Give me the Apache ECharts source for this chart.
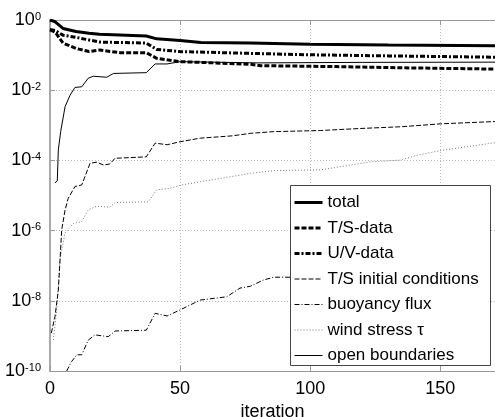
<!DOCTYPE html>
<html>
<head>
<meta charset="utf-8">
<script src="https://cdn.jsdelivr.net/npm/echarts@6/dist/echarts.min.js"></script>
<style>
html,body{margin:0;padding:0;background:#fff;overflow:hidden;}
#chart{width:495px;height:417px;}
</style>
</head>
<body>
<div id="chart"></div>
<script>
// x-axis ticks and y-axis decade ticks
const xTicks = [0, 50, 100, 150];
const yTickExponents = [0, -2, -4, -6, -8, -10];

// series names (legend order)
const seriesNames = ['total', 'T/S-data', 'U/V-data', 'T/S initial conditions', 'buoyancy flux', 'wind stress \u03c4', 'open boundaries'];

// [iteration, cost] pairs
const total = [[0,1.0],[2,0.89],[5,0.575],[10,0.47],[15,0.42],[19,0.39],[37,0.35],[41,0.29],[50,0.26],[58,0.23],[77,0.22],[100,0.205],[130,0.195],[171,0.186]];
const tsData = [[0,0.525],[2,0.45],[5,0.22],[10,0.155],[15,0.126],[19,0.14],[27,0.117],[37,0.117],[41,0.081],[50,0.065],[77,0.055],[81,0.050],[110,0.047],[140,0.043],[171,0.040]];
const uvData = [[0,0.54],[2,0.50],[5,0.37],[10,0.32],[15,0.27],[19,0.235],[37,0.22],[41,0.145],[50,0.126],[77,0.112],[100,0.102],[130,0.095],[171,0.087]];
const tsInitial = [[0.5,1.2e-9],[1.9,3.5e-9],[3.2,2.0e-8],[4.5,1.05e-6],[5.8,3.9e-6],[7,8.3e-6],[9.6,1.8e-5],[12.2,2.0e-5],[15.4,8.3e-5],[18,8.9e-5],[20.5,7.4e-5],[23,7.9e-5],[25,1.15e-4],[37,1.26e-4],[40.4,3.1e-4],[45,2.8e-4],[50,3.4e-4],[57.7,4.3e-4],[70,5.0e-4],[77,5.9e-4],[86,6.6e-4],[104,7.1e-4],[119,8.1e-4],[135,9.1e-4],[150,1.1e-3],[171,1.28e-3]];
const buoyancy = [[6.4,1.0e-10],[8.3,1.86e-10],[10.3,2.9e-10],[12.2,2.9e-10],[14.7,7.6e-10],[17.3,1.07e-9],[22.4,9.5e-10],[25,1.38e-9],[37,1.45e-9],[40.4,4.4e-9],[45,3.7e-9],[50,5.5e-9],[57.7,1.05e-8],[67.9,1.3e-8],[73,2.3e-8],[77,2.6e-8],[82,3.9e-8],[86,4.7e-8],[93,4.7e-8]];
const windStress = [[1.3,7.6e-10],[2.6,5.5e-9],[3.8,1.45e-7],[5.8,8.5e-7],[9,1.6e-6],[12.2,1.8e-6],[14.7,3.9e-6],[18,5.0e-6],[23,4.6e-6],[25,6.3e-6],[37.8,6.6e-6],[41,1.45e-5],[46,1.6e-5],[50.6,2.0e-5],[57.7,2.45e-5],[73,3.8e-5],[77,4.3e-5],[86,5.1e-5],[104,5.4e-5],[111.5,6.6e-5],[123,9.1e-5],[134.6,1.02e-4],[141,1.4e-4],[150,1.9e-4],[171,3.2e-4]];
const openBoundaries = [[1.9,2.3e-5],[2.8,2.6e-5],[3.2,2.0e-4],[4.1,6.6e-4],[5.8,3.4e-3],[7.7,7.2e-3],[9.6,0.012],[12.2,0.0125],[14.7,0.022],[16.7,0.025],[21.8,0.0234],[24.4,0.030],[37,0.0316],[40.4,0.056],[45,0.056],[50,0.065],[80,0.060],[120,0.062],[171,0.063]];

const FONT = 'Liberation Sans, Arial, Helvetica, sans-serif';
const chart = echarts.init(document.getElementById('chart'), null, {renderer: 'canvas', width: 495, height: 417});

function mk(name, data, width, type, color, z) {
  return {
    name: name, type: 'line', data: data,
    showSymbol: false, symbol: 'none', animation: false,
    xAxisIndex: 0, yAxisIndex: 0,
    lineStyle: {width: width, type: type, color: color, cap: 'butt'},
    itemStyle: {color: color},
    z: z
  };
}

const series = [
  mk(seriesNames[0], total, 3, 'solid', '#000', 10),
  mk(seriesNames[1], tsData, 3, [5, 2], '#000', 9),
  mk(seriesNames[2], uvData, 3, [5, 2, 2, 2], '#000', 8),
  mk(seriesNames[3], tsInitial, 1, [5, 2], '#000', 7),
  mk(seriesNames[4], buoyancy, 1, [5, 2, 1, 2], '#000', 6),
  mk(seriesNames[5], windStress, 1, [1, 2], '#777', 5),
  mk(seriesNames[6], openBoundaries, 1, 'solid', '#000', 7)
];

const labelRich = {
  b: {fontSize: 18, fontFamily: FONT, color: '#000', lineHeight: 18},
  s: {fontSize: 11, fontFamily: FONT, color: '#000', lineHeight: 11, verticalAlign: 'top', padding: [0, 0, 7, 0]}
};

chart.setOption({
  backgroundColor: '#fff',
  animation: false,
  grid: {left: 50, top: 20, right: 0, bottom: 46, containLabel: false, outerBoundsMode: 'none'},
  xAxis: [{
    type: 'value', min: 0, max: 171, interval: 50,
    axisLine: {show: true, lineStyle: {color: '#999', width: 1}},
    axisTick: {show: true, inside: true, length: 5, lineStyle: {color: '#999'},
      customValues: xTicks},
    axisLabel: {fontSize: 18, fontFamily: FONT, color: '#000', margin: 9, customValues: xTicks,
      formatter: v => String(v)},
    splitLine: {show: true, lineStyle: {color: '#bbb', type: [1, 2], width: 1}},
    name: 'iteration', nameLocation: 'middle', nameGap: 25,
    nameTextStyle: {fontSize: 18, fontFamily: FONT, color: '#000'}
  }, {
    type: 'value', min: 0, max: 171, interval: 50, position: 'top',
    axisLine: {show: true, lineStyle: {color: '#999', width: 1}},
    axisTick: {show: true, inside: true, length: 5, lineStyle: {color: '#999'}, customValues: xTicks},
    axisLabel: {show: false},
    splitLine: {show: false}
  }],
  yAxis: [{
    type: 'log', logBase: 10, min: 1e-10, max: 1, interval: 2,
    axisLine: {show: true, lineStyle: {color: '#aaa', width: 2}},
    axisTick: {show: true, inside: true, length: 5, lineStyle: {color: '#999'}},
    axisLabel: {
      margin: 9,
      formatter: function (v) {
        const e = Math.round(Math.log10(v));
        return '{b|10}{s|' + e + '}';
      },
      rich: labelRich
    },
    splitLine: {show: true, lineStyle: {color: '#bbb', type: [1, 2], width: 1}},
    minorTick: {show: false}
  }],
  legend: {
    orient: 'vertical', left: 293, top: 194,
    itemWidth: 28, itemHeight: 14, itemGap: 8.5,
    padding: 0,
    backgroundColor: 'transparent',
    textStyle: {fontSize: 17, fontFamily: FONT, color: '#000'},
    itemStyle: {opacity: 0},
    lineStyle: {width: 'inherit', type: 'inherit'},
    data: seriesNames,
    selectedMode: false,
    z: 20
  },
  graphic: [{
    type: 'rect', z: 15, silent: true,
    shape: {x: 290.5, y: 185.5, width: 200, height: 180},
    style: {fill: '#fff', stroke: '#444', lineWidth: 1}
  }],
  series: series
});
</script>
</body>
</html>
